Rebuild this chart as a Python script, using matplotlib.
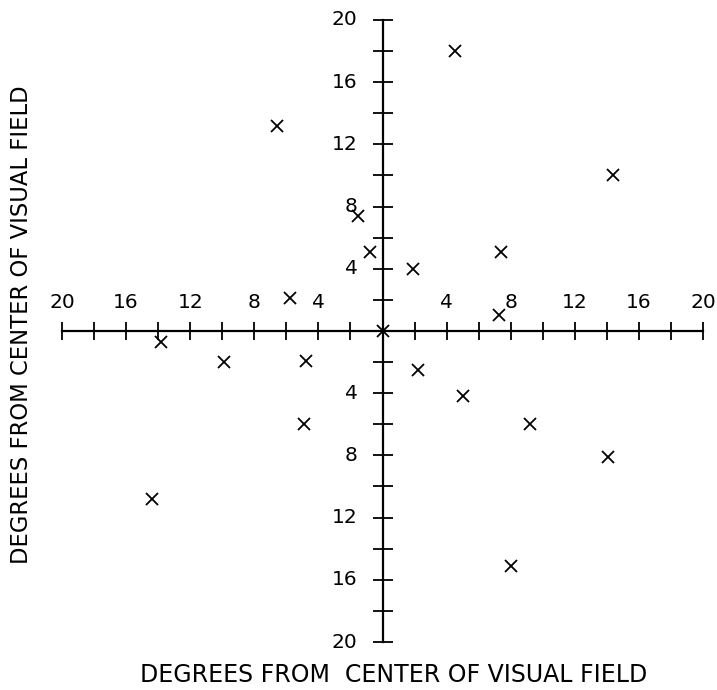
import matplotlib
matplotlib.use('Agg')
import numpy as np
import matplotlib.pyplot as plt

# 数据：视野中各点的位置（度）
pts_x = [4.5, -6.6, 14.4, -1.5, -0.8, 7.4, 1.9, -5.8, 7.3, 0.0,
         -13.8, -9.9, -4.8, 2.2, 5.0, -4.9, 9.2, 14.1, -14.4, 8.0]
pts_y = [18.0, 13.2, 10.0, 7.4, 5.1, 5.1, 4.0, 2.1, 1.0, 0.0,
         -0.7, -2.0, -1.9, -2.5, -4.2, -6.0, -6.0, -8.1, -10.8, -15.1]
tick_vals = np.arange(-20, 21, 2)
label_vals = [-20, -16, -12, -8, -4, 4, 8, 12, 16, 20]
x_title = 'DEGREES FROM  CENTER OF VISUAL FIELD'
y_title = 'DEGREES FROM CENTER OF VISUAL FIELD'

W, H = 717, 690
fig = plt.figure(figsize=(W / 100, H / 100), dpi=100)
ax = fig.add_axes([62 / W, 1 - 642 / H, (703 - 62) / W, (642 - 20) / H])
ax.set_xlim(-20, 20)
ax.set_ylim(-20, 20)

# 十字坐标轴
for side in ['top', 'right']:
    ax.spines[side].set_visible(False)
ax.spines['left'].set_position('zero')
ax.spines['bottom'].set_position('zero')
for side in ['left', 'bottom']:
    ax.spines[side].set_linewidth(1.6)
    ax.spines[side].set_color('black')
ax.set_xticks(tick_vals)
ax.set_yticks(tick_vals)
ax.tick_params(axis='x', direction='inout', length=13, width=1.3, labelbottom=False)
ax.tick_params(axis='y', direction='inout', length=14, width=1.3, labelleft=False)

font = dict(family='DejaVu Sans', color='black')
for v in label_vals:
    ax.annotate(str(abs(v)), (v, 0), xytext=(0, 14), textcoords='offset points',
                ha='center', va='bottom', fontsize=14.5, **font)
    ax.annotate(str(abs(v)), (0, v), xytext=(-18, 0), textcoords='offset points',
                ha='right', va='center', fontsize=14.5, **font)

ax.plot(pts_x, pts_y, 'x', color='black', markersize=8.5, markeredgewidth=1.3, clip_on=False)

fig.text(394 / W, 1 - 675 / H, x_title, ha='center', va='center', fontsize=17, **font)
fig.text(22 / W, 1 - 325 / H, y_title, ha='center', va='center', rotation=90,
         fontsize=16.3, **font)

plt.savefig('out.png', dpi=100)
